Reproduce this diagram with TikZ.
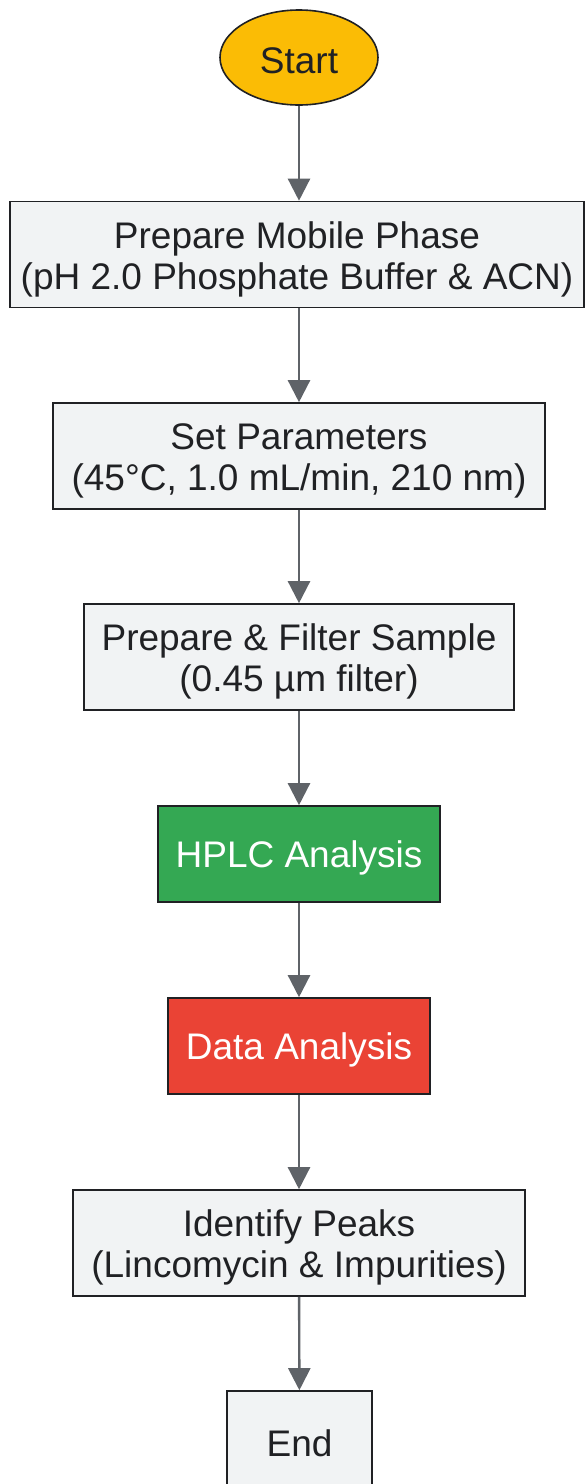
\documentclass[tikz,border=0pt]{standalone}
\usepackage{fontspec}
\setmainfont{Liberation Sans}
\definecolor{startyellow}{RGB}{251,188,5}
\definecolor{boxgray}{RGB}{241,243,244}
\definecolor{hplcgreen}{RGB}{52,168,83}
\definecolor{datared}{RGB}{234,67,53}
\definecolor{inkdark}{RGB}{32,33,36}
\definecolor{arrowgray}{RGB}{95,99,104}
\usetikzlibrary{arrows.meta, positioning, shapes.geometric}

\tikzset{
  stepbox/.style={draw=inkdark, line width=1.6pt, fill=boxgray, text=inkdark,
    align=center, inner sep=0pt, minimum height=106pt, text height=77pt,
    font=\fontsize{37}{41}\selectfont},
  onebox/.style={stepbox, minimum height=96pt, text height=35pt},
  flow/.style={-{Triangle[length=22pt, width=22pt]}, line width=2.4pt, draw=arrowgray, fill=arrowgray}
}

\begin{document}
\begin{tikzpicture}[x=1pt, y=-1pt]
  \useasboundingbox (0,0) rectangle (585,1484);
  \clip (0,0) rectangle (585,1484);
  \fill[white] (0,0) rectangle (585,1484);

  % Start
  \node[ellipse, draw=inkdark, line width=1.6pt, fill=startyellow, text=inkdark,
    minimum width=158pt, minimum height=95pt, inner sep=0pt, text height=33pt,
    font=\fontsize{37}{41}\selectfont] (start) at (299,57.5) {Start};

  % Preparation steps
  \node[stepbox, minimum width=574pt] (mobile) at (297,254.5)
    {Prepare Mobile Phase\\(pH 2.0 Phosphate Buffer \& ACN)};
  \node[stepbox, minimum width=492pt] (params) at (299,456)
    {Set Parameters\\(45°C, 1.0 mL/min, 210 nm)};
  \node[stepbox, minimum width=430pt] (sample) at (299,657)
    {Prepare \& Filter Sample\\(0.45 µm filter)};

  % Analysis
  \node[onebox, minimum width=282pt, fill=hplcgreen, text=white]
    (hplc) at (299,854) {HPLC Analysis};
  \node[onebox, minimum width=262pt, fill=datared, text=white]
    (data) at (299,1046) {Data Analysis};

  % Results
  \node[stepbox, minimum width=452pt] (peaks) at (299,1243)
    {Identify Peaks\\(Lincomycin \& Impurities)};
  \node[onebox, minimum width=145pt] (end) at (299.5,1439) {End};

  % Arrows
  \draw[flow] (start.south) -- (start.south |- mobile.north);
  \draw[flow] (params.north |- mobile.south) -- (params.north);
  \draw[flow] (params) -- (sample);
  \draw[flow] (sample) -- (hplc);
  \draw[flow] (hplc) -- (data);
  \draw[flow] (data) -- (peaks);
  \draw[flow] (peaks) -- (end);
\end{tikzpicture}
\end{document}
